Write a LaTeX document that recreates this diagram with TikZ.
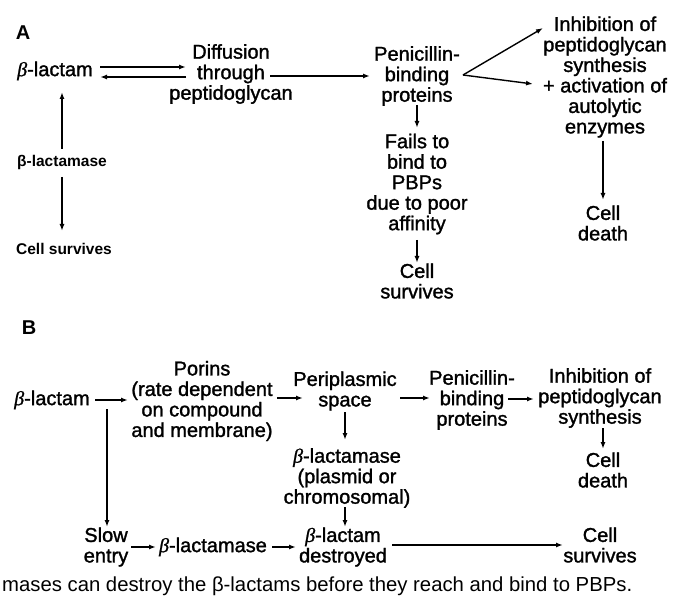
\documentclass[tikz,border=0pt]{standalone}
\usepackage{fontspec}
\setmainfont{Liberation Sans}
\newfontfamily\medf{Liberation Sans}[FakeBold=1.4]
\newfontfamily\boldf{Liberation Sans Bold}
\newfontfamily\betaf{Liberation Serif Italic}[FakeBold=1]
\newcommand\bet{{\betaf β}}
\usetikzlibrary{arrows.meta}
\begin{document}
\begin{tikzpicture}[x=1pt,y=-1pt,
  txt/.style={inner sep=0pt,align=center,font=\medf\fontsize{20}{20.5}\selectfont},
  btxt/.style={inner sep=0pt,align=center,font=\boldf\fontsize{15.5}{17}\selectfont},
  lab/.style={inner sep=0pt,font=\boldf\fontsize{20}{20}\selectfont},
  arr/.style={line width=1.4pt,-{Latex[length=7pt,width=5pt]}}]
\path[use as bounding box] (0,0) rectangle (685,609);
% ---------- Panel A ----------
\node[lab] (labA) at (23,33) {A};
\node[txt] (lacA) at (55,71) {\bet-lactam};
\node[txt] (diff) at (231,74) {Diffusion\\through\\peptidoglycan};
\node[txt] (pbpA) at (417,76) {Penicillin-\\binding\\proteins};
\node[txt] (inhA) at (605,77) {Inhibition of\\peptidoglycan\\synthesis\\+ activation of\\autolytic\\enzymes};
\node[txt] (deathA) at (603,223) {Cell\\death};
\node[txt] (failA) at (417,184) {Fails to\\bind to\\PBPs\\due to poor\\affinity};
\node[txt] (survA) at (417,281) {Cell\\survives};
\node[btxt] (lamA) at (62,162) {β-lactamase};
\node[btxt] (survA2) at (64,249) {Cell survives};
\draw[arr] ([shift={(45,-4)}]lacA.center) -- ([shift={(-45,-7)}]diff.center);
\draw[arr] ([shift={(-45,3)}]diff.center) -- ([shift={(45,6)}]lacA.center);
\draw[arr] ([shift={(39,2)}]diff.center) -- ([shift={(-47,0)}]pbpA.center);
\draw[arr] ([shift={(46,-1)}]pbpA.center) -- ([shift={(-62,-49)}]inhA.center);
\draw[arr] ([shift={(46,-1)}]pbpA.center) -- ([shift={(-72,7)}]inhA.center);
\draw[arr] ([shift={(-2,64)}]inhA.center) -- ([shift={(0,-23)}]deathA.center);
\draw[arr] ([shift={(0,29)}]pbpA.center) -- ([shift={(0,-56)}]failA.center);
\draw[arr] ([shift={(0,56)}]failA.center) -- ([shift={(0,-18)}]survA.center);
\draw[arr] ([shift={(0,-13)}]lamA.center) -- ([shift={(7,21)}]lacA.center);
\draw[arr] ([shift={(0,15)}]lamA.center) -- ([shift={(-2,-18)}]survA2.center);
% ---------- Panel B ----------
\node[lab] (labB) at (29,328) {B};
\node[txt] (lacB) at (52,400) {\bet-lactam};
\node[txt] (por) at (202,401) {Porins\\(rate dependent\\on compound\\and membrane)};
\node[txt] (peri) at (345,391) {Periplasmic\\space};
\node[txt] (pbpB) at (472,400) {Penicillin-\\binding\\proteins};
\node[txt] (inhB) at (600,398) {Inhibition of\\peptidoglycan\\synthesis};
\node[txt] (deathB) at (603,470) {Cell\\death};
\node[txt] (lamB) at (347,478) {\bet-lactamase\\(plasmid or\\chromosomal)};
\node[txt] (destr) at (343,547) {\bet-lactam\\destroyed};
\node[txt] (survB) at (600,545) {Cell\\survives};
\node[txt] (slow) at (106,547) {Slow\\entry};
\node[txt] (lamB2) at (213,547) {\bet-lactamase};
\node[inner sep=0pt,anchor=west,font=\fontsize{20.3}{22}\selectfont] (cap) at (2,586) {mases can destroy the β-lactams before they reach and bind to PBPs.};
\draw[arr] ([shift={(43,0)}]lacB.center) -- ([shift={(-74,-1)}]por.center);
\draw[arr] ([shift={(75,-3)}]por.center) -- ([shift={(-42,7)}]peri.center);
\draw[arr] ([shift={(55,7)}]peri.center) -- ([shift={(-42,-2)}]pbpB.center);
\draw[arr] ([shift={(36,-1)}]pbpB.center) -- ([shift={(-66,1)}]inhB.center);
\draw[arr] ([shift={(3,30)}]inhB.center) -- ([shift={(0,-21)}]deathB.center);
\draw[arr] ([shift={(0,21)}]peri.center) -- ([shift={(-2,-38)}]lamB.center);
\draw[arr] ([shift={(-2,29)}]lamB.center) -- ([shift={(2,-20)}]destr.center);
\draw[arr] ([shift={(49,-2)}]destr.center) -- ([shift={(-37,0)}]survB.center);
\draw[arr] ([shift={(55,9)}]lacB.center) -- ([shift={(1,-20)}]slow.center);
\draw[arr] ([shift={(25,0)}]slow.center) -- ([shift={(-57,0)}]lamB2.center);
\draw[arr] ([shift={(59,0)}]lamB2.center) -- ([shift={(-47,0)}]destr.center);
\end{tikzpicture}
\end{document}
